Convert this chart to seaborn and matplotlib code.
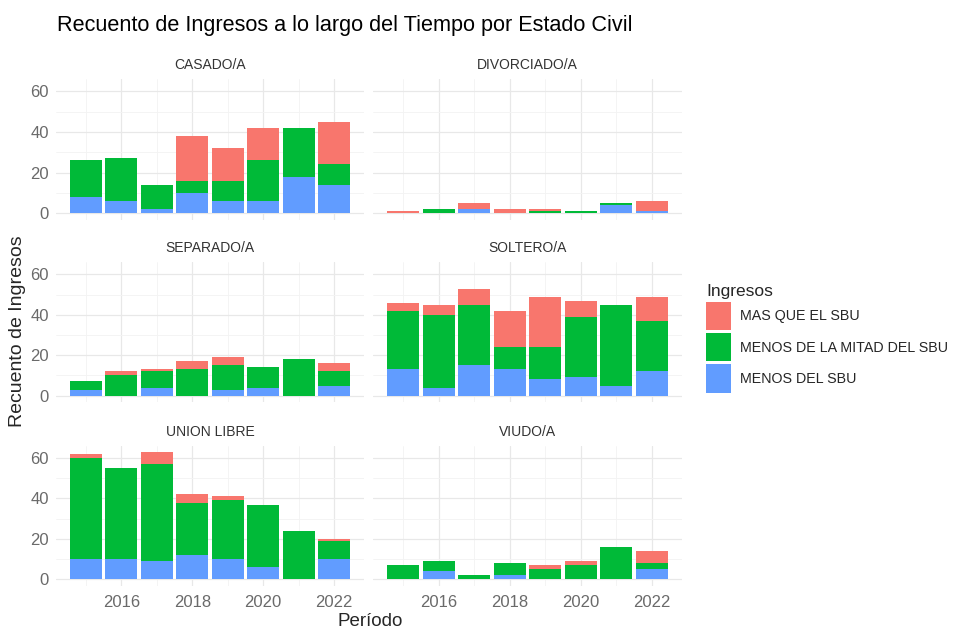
import numpy as np
import pandas as pd
import seaborn as sns
import matplotlib.pyplot as plt
from matplotlib.patches import Patch
from matplotlib.ticker import MultipleLocator

# datos
anios = [2015, 2016, 2017, 2018, 2019, 2020, 2021, 2022]
estados = ['CASADO/A', 'DIVORCIADO/A', 'SEPARADO/A', 'SOLTERO/A', 'UNION LIBRE', 'VIUDO/A']
ingresos = ['MENOS DEL SBU', 'MENOS DE LA MITAD DEL SBU', 'MAS QUE EL SBU']
colores = {'MAS QUE EL SBU': '#F8766D', 'MENOS DE LA MITAD DEL SBU': '#00BA38', 'MENOS DEL SBU': '#619CFF'}

# MENOS DEL SBU
azul = {
    'CASADO/A':     [8, 6, 2, 10, 6, 6, 18, 14],
    'DIVORCIADO/A': [0, 0, 2, 0, 0, 0, 4, 1],
    'SEPARADO/A':   [3, 0, 4, 0, 3, 4, 0, 5],
    'SOLTERO/A':    [13, 4, 15, 13, 8, 9, 5, 12],
    'UNION LIBRE':  [10, 10, 9, 12, 10, 6, 0, 10],
    'VIUDO/A':      [0, 4, 0, 2, 0, 0, 0, 5],
}
# MENOS DE LA MITAD DEL SBU
verde = {
    'CASADO/A':     [18, 21, 12, 6, 10, 20, 24, 10],
    'DIVORCIADO/A': [0, 2, 0, 0, 1, 1, 1, 0],
    'SEPARADO/A':   [4, 10, 8, 13, 12, 10, 18, 7],
    'SOLTERO/A':    [29, 36, 30, 11, 16, 30, 40, 25],
    'UNION LIBRE':  [50, 45, 48, 26, 29, 31, 24, 9],
    'VIUDO/A':      [7, 5, 2, 6, 5, 7, 16, 3],
}
# MAS QUE EL SBU
rojo = {
    'CASADO/A':     [0, 0, 0, 22, 16, 16, 0, 21],
    'DIVORCIADO/A': [1, 0, 3, 2, 1, 0, 0, 5],
    'SEPARADO/A':   [0, 2, 1, 4, 4, 0, 0, 4],
    'SOLTERO/A':    [4, 5, 8, 18, 25, 8, 0, 12],
    'UNION LIBRE':  [2, 0, 6, 4, 2, 0, 0, 1],
    'VIUDO/A':      [0, 0, 0, 0, 2, 2, 0, 6],
}

filas = []
for e in estados:
    for i, a in enumerate(anios):
        vals = [azul[e][i], verde[e][i], rojo[e][i]]
        acum = np.cumsum(vals)
        for k, ing in enumerate(ingresos):
            filas.append({'estado': e, 'anio': a, 'ingresos': ing, 'n': vals[k], 'acum': acum[k]})
df = pd.DataFrame(filas)

sns.set_theme(style='white')
plt.rcParams['font.family'] = ['Liberation Sans', 'DejaVu Sans']

W, H = 956, 632
fig = plt.figure(figsize=(W / 100, H / 100), dpi=100)

cols_x = [(56, 308), (373, 309)]
rows_y = [(79, 219.5), (262, 402), (445.6, 585.7)]

gris = '#6a6a6a'
for idx, e in enumerate(estados):
    r, c = divmod(idx, 2)
    x0, w = cols_x[c]
    yt, yb = rows_y[r]
    ax = fig.add_axes([x0 / W, 1 - yb / H, w / W, (yb - yt) / H])
    sub = df[df['estado'] == e]
    # barras apiladas: se dibuja el acumulado de arriba hacia abajo
    for ing in reversed(ingresos):
        sns.barplot(data=sub[sub['ingresos'] == ing], x='anio', y='acum', color=colores[ing],
                    native_scale=True, width=0.9, saturation=1, errorbar=None,
                    linewidth=0, ax=ax)
    ax.set_xlim(2014.155, 2022.845)
    ax.set_ylim(-3.15, 66.15)
    ax.set_xticks([2016, 2018, 2020, 2022])
    ax.set_xticks([2015, 2017, 2019, 2021], minor=True)
    ax.yaxis.set_major_locator(MultipleLocator(20))
    ax.yaxis.set_minor_locator(MultipleLocator(10))
    ax.grid(which='major', color='#e8e8e8', linewidth=0.9)
    ax.grid(which='minor', color='#f3f3f3', linewidth=0.6)
    ax.set_axisbelow(True)
    for s in ax.spines.values():
        s.set_visible(False)
    ax.tick_params(which='both', length=0, labelsize=12, colors=gris)
    ax.tick_params(axis='x', pad=7)
    ax.tick_params(axis='y', pad=5)
    ax.set_xlabel('')
    ax.set_ylabel('')
    if c == 1:
        ax.tick_params(labelleft=False)
    if r < 2:
        ax.tick_params(labelbottom=False)
    ax.set_title(e, fontsize=10, color='#333333', pad=7)

fig.text(57 / W, 1 - 25 / H, 'Recuento de Ingresos a lo largo del Tiempo por Estado Civil',
         fontsize=15.6, color='black', va='center', ha='left')
fig.text(18 / W, 1 - 331 / H, 'Recuento de Ingresos', rotation=90, fontsize=14,
         va='center', ha='center')
fig.text(370 / W, 1 - 622 / H, 'Período', fontsize=13.5, va='center', ha='center')

handles = [Patch(facecolor=colores[i], edgecolor='none') for i in reversed(ingresos)]
leg = fig.legend(handles, list(reversed(ingresos)), title='Ingresos',
                 loc='upper left', bbox_to_anchor=(693 / W, 1 - 271 / H),
                 frameon=False, fontsize=10.3, title_fontsize=12.5,
                 handlelength=1.78, handleheight=2.68, labelspacing=0.2,
                 handletextpad=0.62)
leg._legend_box.align = 'left'

fig.savefig('out.png', dpi=100)
